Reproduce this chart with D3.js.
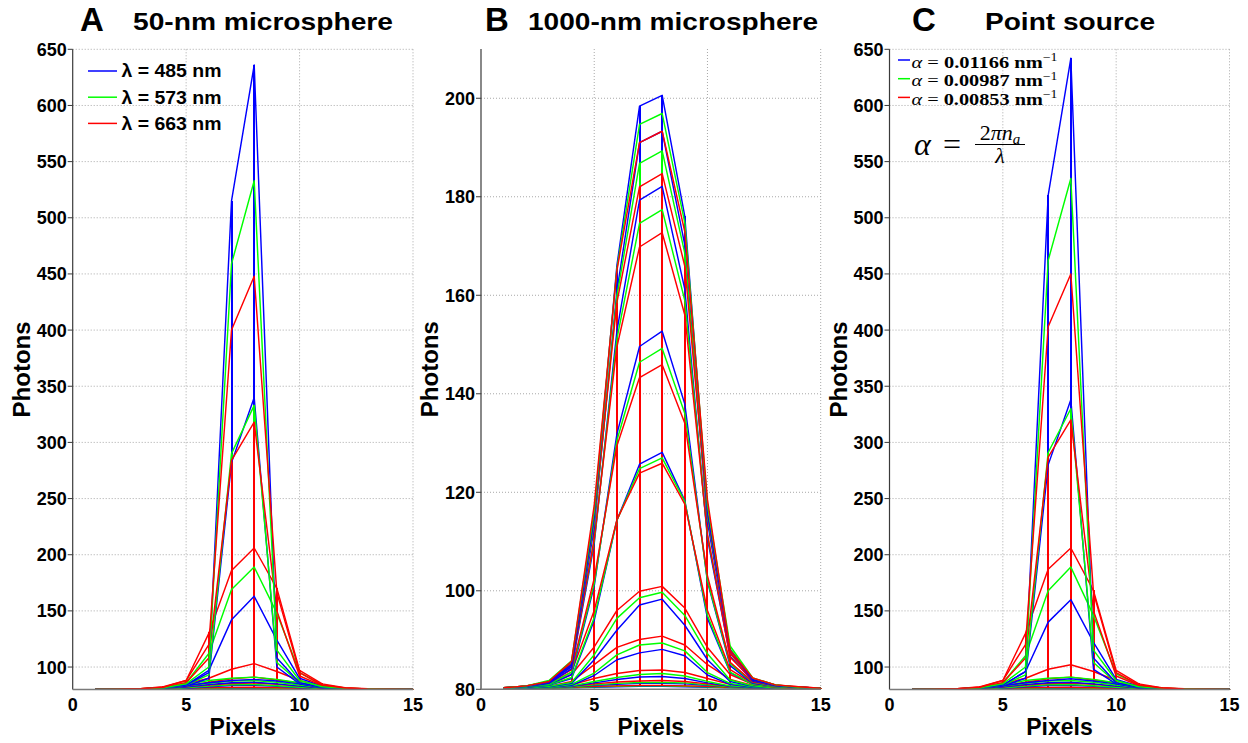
<!DOCTYPE html>
<html><head><meta charset="utf-8">
<script src="https://cdn.jsdelivr.net/npm/d3@7"></script>
<style>body{margin:0;background:#fff}</style>
</head><body>
<svg id="chart" width="1248" height="743" xmlns="http://www.w3.org/2000/svg"></svg>
<script>
// ---------------- DATA ----------------
const pixels = [1,2,3,4,5,6,7,8,9,10,11,12,13,14,15];
const xTicks = [0,5,10,15];
const yTicksA = [100,150,200,250,300,350,400,450,500,550,600,650];
const yTicksB = [80,100,120,140,160,180,200];
const yTicksC = [100,150,200,250,300,350,400,450,500,550,600,650];
const panelTitles = ["50-nm microsphere","1000-nm microsphere","Point source"];
const panelLetters = ["A","B","C"];
const legendLabelsA = ["λ = 485 nm","λ = 573 nm","λ = 663 nm"];
const legendAlphas = ["0.01166","0.00987","0.00853"];
const seriesColors = ["#0000ff","#00ff00","#ff0000"];

// Panel A: 50-nm microsphere (rows of the mesh, front half up to the peak row)
const aBlue = [
 [80.0,80.0,80.1,80.2,80.3,80.4,80.5,80.5,80.4,80.3,80.2,80.1,80.0,80.0,80.0],
 [80.0,80.1,80.1,80.3,80.6,81.0,81.3,81.4,81.0,80.6,80.3,80.1,80.1,80.0,80.0],
 [80.1,80.1,80.2,80.5,81.2,82.5,83.5,83.8,82.8,81.5,80.7,80.3,80.1,80.1,80.0],
 [80.1,80.2,80.4,81.0,82.5,84.5,86.0,86.5,85.0,83.0,81.5,80.6,80.3,80.1,80.1],
 [80.1,80.2,80.5,81.3,83.5,86.0,88.0,89.0,87.5,85.0,82.3,80.9,80.4,80.2,80.1],
 [80.1,80.2,80.5,81.3,84.0,97.0,142.0,163.0,124.0,90.0,83.0,81.0,80.4,80.2,80.1],
 [80.1,80.2,80.4,81.2,83.0,90.0,282.0,340.0,100.0,85.0,81.5,80.6,80.3,80.1,80.1],
 [80.1,80.2,80.5,81.5,84.0,95.0,515.0,636.0,108.0,86.0,82.0,80.8,80.3,80.2,80.1]
];
const aGreen = [
 [80.0,80.0,80.1,80.2,80.3,80.4,80.5,80.6,80.5,80.3,80.2,80.1,80.0,80.0,80.0],
 [80.0,80.1,80.2,80.4,80.7,81.2,81.5,81.6,81.2,80.7,80.4,80.2,80.1,80.0,80.0],
 [80.1,80.1,80.3,80.6,81.5,83.0,84.2,84.5,83.3,82.0,80.9,80.4,80.2,80.1,80.0],
 [80.1,80.2,80.4,81.1,83.0,85.5,87.5,88.0,86.5,84.0,81.8,80.7,80.3,80.2,80.1],
 [80.1,80.2,80.5,81.5,84.5,88.0,90.0,91.0,89.0,86.0,82.8,81.0,80.4,80.2,80.1],
 [80.1,80.2,80.6,81.6,86.0,112.0,169.0,189.0,148.0,95.0,84.0,81.3,80.5,80.2,80.1],
 [80.1,80.2,80.5,81.3,84.0,93.0,290.0,333.0,104.0,86.0,82.0,80.7,80.3,80.2,80.1],
 [80.1,80.2,80.5,81.6,85.0,100.0,459.0,533.0,115.0,88.0,82.5,81.0,80.4,80.2,80.1]
];
const aRed = [
 [80.0,80.0,80.1,80.2,80.4,80.5,80.6,80.7,80.6,80.4,80.2,80.1,80.0,80.0,80.0],
 [80.0,80.1,80.2,80.5,81.0,81.5,81.9,82.0,81.6,81.0,80.5,80.2,80.1,80.0,80.0],
 [80.1,80.2,80.4,81.0,82.3,84.0,85.3,85.8,84.6,83.0,81.4,80.6,80.2,80.1,80.0],
 [80.1,80.2,80.5,81.3,83.2,86.5,89.5,91.0,88.5,85.5,82.5,80.9,80.4,80.2,80.1],
 [80.1,80.2,80.6,81.6,85.0,90.0,98.0,103.0,96.0,88.0,83.0,81.0,80.4,80.2,80.1],
 [80.1,80.3,80.8,82.5,88.0,130.0,186.0,206.0,170.0,97.0,85.0,81.6,80.6,80.2,80.1],
 [80.1,80.2,80.6,81.8,86.0,108.0,284.0,318.0,150.0,92.0,83.5,81.2,80.5,80.2,80.1],
 [80.1,80.3,80.7,82.0,88.0,120.0,400.0,448.0,166.0,95.0,84.0,81.3,80.5,80.2,80.1]
];

// Panel B: 1000-nm microsphere
const bBlue = [
 [80.1,80.2,80.2,80.3,80.4,80.5,80.6,80.6,80.5,80.4,80.3,80.2,80.2,80.1,80.1],
 [80.1,80.2,80.3,80.5,80.8,81.0,81.2,81.2,81.1,80.8,80.5,80.3,80.2,80.1,80.1],
 [80.1,80.2,80.3,80.6,81.3,82.0,82.5,82.6,82.2,81.3,80.6,80.3,80.2,80.1,80.1],
 [80.1,80.2,80.4,80.8,82.8,86.0,87.4,88.1,86.8,82.9,81.0,80.4,80.2,80.1,80.1],
 [80.1,80.2,80.5,81.2,86.0,92.0,97.1,98.3,93.0,86.0,81.6,80.6,80.3,80.2,80.1],
 [80.2,80.4,80.8,82.2,94.0,114.3,125.7,128.1,118.3,94.4,83.4,81.0,80.5,80.3,80.1],
 [80.2,80.4,81.0,83.0,101.0,131.8,149.6,152.7,137.9,101.8,84.8,81.2,80.6,80.3,80.2],
 [80.2,80.5,81.2,84.2,109.6,152.7,179.3,182.1,161.2,110.6,86.7,81.7,80.7,80.4,80.2],
 [80.3,80.6,81.4,84.6,112.9,160.8,191.0,193.3,170.2,114.0,87.5,81.9,80.8,80.4,80.2],
 [80.3,80.6,81.5,85.0,115.0,166.0,198.4,200.6,176.0,116.0,88.0,82.0,80.8,80.4,80.2]
];
const bGreen = [
 [80.1,80.2,80.2,80.3,80.5,80.6,80.7,80.7,80.6,80.5,80.3,80.2,80.2,80.1,80.1],
 [80.1,80.2,80.3,80.5,80.9,81.2,81.4,81.4,81.3,80.9,80.5,80.3,80.2,80.1,80.1],
 [80.1,80.2,80.3,80.7,81.6,82.4,83.0,83.2,82.7,81.6,80.7,80.4,80.2,80.1,80.1],
 [80.1,80.2,80.4,81.0,83.3,87.0,89.0,89.4,87.8,83.4,81.2,80.5,80.3,80.1,80.1],
 [80.1,80.3,80.6,81.4,87.0,94.4,98.6,99.7,95.0,87.2,81.9,80.7,80.3,80.2,80.1],
 [80.2,80.4,80.9,82.4,94.6,114.3,124.8,127.0,118.1,95.0,83.5,81.0,80.5,80.3,80.1],
 [80.2,80.5,81.0,83.5,101.5,130.5,146.4,149.2,136.0,102.1,85.2,81.4,80.6,80.3,80.2],
 [80.2,80.5,81.5,84.9,110.2,151.1,174.6,177.4,158.9,111.2,87.3,81.9,80.8,80.4,80.2],
 [80.3,80.6,81.6,85.5,113.9,159.8,186.8,189.3,168.5,115.0,88.2,82.2,80.9,80.4,80.2],
 [80.3,80.7,81.8,85.8,116.2,165.3,194.7,196.9,174.7,117.4,88.8,82.3,80.9,80.4,80.2]
];
const bRed = [
 [80.1,80.2,80.3,80.4,80.6,80.7,80.8,80.8,80.7,80.6,80.4,80.3,80.2,80.1,80.1],
 [80.1,80.2,80.3,80.6,81.1,81.5,81.7,81.8,81.6,81.1,80.6,80.3,80.2,80.1,80.1],
 [80.1,80.2,80.4,80.9,82.2,83.2,83.8,83.9,83.4,82.2,81.0,80.5,80.2,80.1,80.1],
 [80.1,80.3,80.6,81.6,85.0,88.5,90.1,90.8,89.0,85.0,82.0,80.8,80.3,80.2,80.1],
 [80.2,80.4,80.9,83.0,88.6,96.0,99.9,100.9,96.5,88.5,83.0,81.0,80.4,80.2,80.1],
 [80.2,80.5,81.2,83.5,96.0,114.4,123.9,125.9,117.6,96.0,84.0,81.2,80.6,80.3,80.2],
 [80.3,80.6,81.3,84.0,102.5,129.4,143.3,145.9,134.0,103.0,85.5,81.5,80.7,80.4,80.2],
 [80.3,80.7,81.5,84.6,110.6,149.5,169.8,172.7,156.0,111.5,86.5,81.9,80.8,80.4,80.2],
 [80.3,80.7,81.6,85.2,114.6,158.5,182.0,184.7,165.9,115.6,87.3,82.1,80.9,80.5,80.2],
 [80.3,80.7,81.6,85.7,117.4,165.0,191.0,193.3,172.9,118.5,87.9,82.3,80.9,80.5,80.2]
];

// Panel C: point source
const cBlue = [
 [80.0,80.0,80.1,80.2,80.3,80.4,80.5,80.5,80.4,80.3,80.2,80.1,80.0,80.0,80.0],
 [80.0,80.1,80.1,80.3,80.6,81.0,81.3,81.4,81.0,80.6,80.3,80.1,80.1,80.0,80.0],
 [80.1,80.1,80.2,80.5,81.2,82.5,83.5,83.8,82.8,81.5,80.7,80.3,80.1,80.1,80.0],
 [80.1,80.2,80.4,81.0,82.5,84.5,86.0,86.5,85.0,83.0,81.5,80.6,80.3,80.1,80.1],
 [80.1,80.2,80.5,81.3,83.5,86.0,88.0,89.5,87.5,85.0,82.3,80.9,80.4,80.2,80.1],
 [80.1,80.2,80.5,81.3,84.0,96.0,140.0,160.0,122.0,89.0,83.0,81.0,80.4,80.2,80.1],
 [80.1,80.2,80.4,81.2,83.0,90.0,280.0,338.0,98.0,85.0,81.5,80.6,80.3,80.1,80.1],
 [80.1,80.2,80.5,81.5,84.0,96.0,520.0,642.0,108.0,86.0,82.0,80.8,80.3,80.2,80.1]
];
const cGreen = [
 [80.0,80.0,80.1,80.2,80.3,80.4,80.5,80.6,80.5,80.3,80.2,80.1,80.0,80.0,80.0],
 [80.0,80.1,80.2,80.4,80.7,81.2,81.5,81.6,81.2,80.7,80.4,80.2,80.1,80.0,80.0],
 [80.1,80.1,80.3,80.6,81.5,83.0,84.2,84.5,83.3,82.0,80.9,80.4,80.2,80.1,80.0],
 [80.1,80.2,80.4,81.1,83.0,85.5,87.5,88.0,86.5,84.0,81.8,80.7,80.3,80.2,80.1],
 [80.1,80.2,80.5,81.5,84.5,88.0,90.0,91.0,89.0,86.0,82.8,81.0,80.4,80.2,80.1],
 [80.1,80.2,80.6,81.6,86.0,110.0,168.0,189.0,146.0,94.0,84.0,81.3,80.5,80.2,80.1],
 [80.1,80.2,80.5,81.3,84.0,93.0,291.0,330.0,104.0,86.0,82.0,80.7,80.3,80.2,80.1],
 [80.1,80.2,80.5,81.6,85.0,100.0,462.0,535.0,115.0,88.0,82.5,81.0,80.4,80.2,80.1]
];
const cRed = [
 [80.0,80.0,80.1,80.2,80.4,80.5,80.6,80.7,80.6,80.4,80.2,80.1,80.0,80.0,80.0],
 [80.0,80.1,80.2,80.5,81.0,81.5,81.9,82.0,81.6,81.0,80.5,80.2,80.1,80.0,80.0],
 [80.1,80.2,80.4,81.0,82.3,84.0,85.3,85.8,84.6,83.0,81.4,80.6,80.2,80.1,80.0],
 [80.1,80.2,80.5,81.3,83.2,86.5,89.5,91.0,88.5,85.5,82.5,80.9,80.4,80.2,80.1],
 [80.1,80.2,80.6,81.6,85.0,90.0,98.0,102.0,96.0,88.0,83.0,81.0,80.4,80.2,80.1],
 [80.1,80.3,80.8,82.5,88.0,130.0,187.0,206.0,168.0,97.0,85.0,81.6,80.6,80.2,80.1],
 [80.1,80.2,80.6,81.8,86.0,108.0,287.0,320.0,150.0,92.0,83.5,81.2,80.5,80.2,80.1],
 [80.1,80.3,80.7,82.0,88.0,120.0,403.0,450.0,166.0,95.0,84.0,81.3,80.5,80.2,80.1]
];

// ---------------- LAYOUT ----------------
const svg = d3.select("#chart");
const FONT = "'Liberation Sans', Arial, Helvetica, sans-serif";
const SERIF = "'Liberation Serif', 'DejaVu Serif', 'Times New Roman', serif";

const panels = [
  {letter: panelLetters[0], title: panelTitles[0], left: 72.7, right: 413, top: 49.3, bottom: 689.5,
   domain: [80,650], ticks: yTicksA, series: [aBlue,aGreen,aRed],
   letterX: 80, titleX: 133, titleLen: 260},
  {letter: panelLetters[1], title: panelTitles[1], left: 481, right: 820.7, top: 49, bottom: 689.3,
   domain: [80,210], ticks: yTicksB, series: [bBlue,bGreen,bRed],
   letterX: 485, titleX: 528, titleLen: 290},
  {letter: panelLetters[2], title: panelTitles[2], left: 889.5, right: 1229.5, top: 49.3, bottom: 689.5,
   domain: [80,650], ticks: yTicksC, series: [cBlue,cGreen,cRed],
   letterX: 912, titleX: 985, titleLen: 170}
];

panels.forEach((p) => {
  const x = d3.scaleLinear().domain([0,15]).range([p.left, p.right]);
  const y = d3.scaleLinear().domain(p.domain).range([p.bottom, p.top]);
  const g = svg.append("g");

  // grid
  const grid = g.append("g").attr("stroke","#a8a8a8").attr("stroke-width",1)
     .attr("stroke-dasharray","1,2");
  p.ticks.filter(t => t !== p.domain[0]).forEach(t => {
    grid.append("line").attr("x1",x(0)).attr("x2",x(15)).attr("y1",y(t)).attr("y2",y(t));
  });
  xTicks.filter(t => t > 0).forEach(t => {
    grid.append("line").attr("x1",x(t)).attr("x2",x(t)).attr("y1",p.top).attr("y2",p.bottom);
  });

  // data : mesh columns then rows
  const clip = "clip" + p.letter;
  svg.append("clipPath").attr("id",clip).append("rect")
     .attr("x",p.left).attr("y",p.top-1).attr("width",p.right-p.left+1).attr("height",p.bottom-p.top+1);
  const dg = g.append("g").attr("clip-path",`url(#${clip})`).attr("fill","none")
     .attr("stroke-linejoin","round");

  p.series.forEach((mat, ci) => {
    const rowsForCols = ci === 0 ? mat : mat.slice(0, mat.length-1);
    pixels.forEach((px, j) => {
      const col = rowsForCols.map(r => r[j]);
      const cx = Math.round(x(px));           // pixel-snapped column position
      dg.append("path").attr("stroke", seriesColors[ci]).attr("stroke-width",2)
        .attr("shape-rendering","crispEdges")
        .attr("d", d3.line().x(() => cx).y(v => y(v))(col));
    });
  });
  const rowLine = d3.line().x((v,i) => x(pixels[i])).y(v => y(v));
  const nRows = d3.max(p.series, m => m.length);
  for (let r = 0; r < nRows; r++) {
    p.series.forEach((mat, ci) => {
      if (r < mat.length) dg.append("path").attr("stroke", seriesColors[ci])
        .attr("stroke-width",1.45).attr("d", rowLine(mat[r]));
    });
  }

  // axes
  g.append("line").attr("x1",p.left).attr("x2",p.left).attr("y1",p.top).attr("y2",p.bottom)
    .attr("stroke","#3a3a3a").attr("stroke-width",1.2);
  g.append("line").attr("x1",p.left).attr("x2",p.right).attr("y1",p.bottom).attr("y2",p.bottom)
    .attr("stroke","#7a7a7a").attr("stroke-width",1.5);

  p.ticks.forEach(t => {
    g.append("line").attr("x1",p.left-5).attr("x2",p.left).attr("y1",y(t)).attr("y2",y(t))
      .attr("stroke","#3a3a3a").attr("stroke-width",1);
    g.append("text").attr("x",p.left-6).attr("y",y(t)).attr("dy","0.36em")
      .attr("text-anchor","end").attr("font-family",FONT).attr("font-weight","bold")
      .attr("font-size",18).attr("fill","#000").text(t);
  });
  xTicks.forEach(t => {
    g.append("text").attr("x",x(t)).attr("y",p.bottom+21.5)
      .attr("text-anchor","middle").attr("font-family",FONT).attr("font-weight","bold")
      .attr("font-size",18).attr("fill","#000").text(t);
  });

  // labels
  g.append("text").attr("x",(p.left+p.right)/2).attr("y",734.5).attr("text-anchor","middle")
    .attr("font-family",FONT).attr("font-weight","bold").attr("font-size",23).text("Pixels");
  g.append("text").attr("transform",`translate(${p.left-43},${(p.top+p.bottom)/2}) rotate(-90)`)
    .attr("text-anchor","middle").attr("font-family",FONT).attr("font-weight","bold")
    .attr("font-size",24).text("Photons");

  // titles
  g.append("text").attr("x",p.letterX).attr("y",31).attr("font-family",FONT).attr("font-weight","bold")
    .attr("font-size",33).text(p.letter);
  g.append("text").attr("x",p.titleX).attr("y",29.5).attr("font-family",FONT).attr("font-weight","bold")
    .attr("font-size",24).attr("textLength",p.titleLen).attr("lengthAdjust","spacingAndGlyphs").text(p.title);
});

// legend A
legendLabelsA.forEach((lab, i) => {
  const ly = 71 + i*26.2;
  svg.append("line").attr("x1",88).attr("x2",117).attr("y1",ly).attr("y2",ly)
    .attr("stroke",seriesColors[i]).attr("stroke-width",1.5);
  svg.append("text").attr("x",121.5).attr("y",ly+6.3).attr("font-family",FONT).attr("font-weight","bold")
    .attr("font-size",17.5).attr("textLength",100).attr("lengthAdjust","spacingAndGlyphs").text(lab);
});

// legend C
legendAlphas.forEach((val, i) => {
  const ly = 60 + i*18.7;
  svg.append("line").attr("x1",898).attr("x2",910).attr("y1",ly).attr("y2",ly)
    .attr("stroke",seriesColors[i]).attr("stroke-width",1.5);
  const t = svg.append("text").attr("x",911.5).attr("y",ly+7.5).attr("font-family",SERIF)
    .attr("font-size",17).attr("fill","#000")
    .attr("textLength",146).attr("lengthAdjust","spacingAndGlyphs");
  t.append("tspan").attr("font-style","italic").text("α");
  t.append("tspan").text(" = ");
  t.append("tspan").attr("font-weight","bold").text(val + " nm");
  t.append("tspan").attr("dy",-6.5).attr("font-size",11.5).text("−1");
});

// formula alpha = 2 pi n_a / lambda
const fg = svg.append("g").attr("font-family",SERIF).attr("fill","#000");
fg.append("text").attr("x",914).attr("y",155).attr("font-size",32).attr("font-style","italic").text("α");
fg.append("text").attr("x",943).attr("y",155).attr("font-size",32).text("=");
const num = fg.append("text").attr("x",1000).attr("y",139.5).attr("font-size",22).attr("text-anchor","middle");
num.append("tspan").text("2");
num.append("tspan").attr("font-style","italic").text("πn");
num.append("tspan").attr("font-style","italic").attr("font-size",15).attr("dy",4).text("a");
fg.append("line").attr("x1",975).attr("x2",1025).attr("y1",144.5).attr("y2",144.5)
  .attr("stroke","#000").attr("stroke-width",1);
fg.append("text").attr("x",1000).attr("y",162.5).attr("font-size",22).attr("font-style","italic")
  .attr("text-anchor","middle").text("λ");
</script>
</body></html>
